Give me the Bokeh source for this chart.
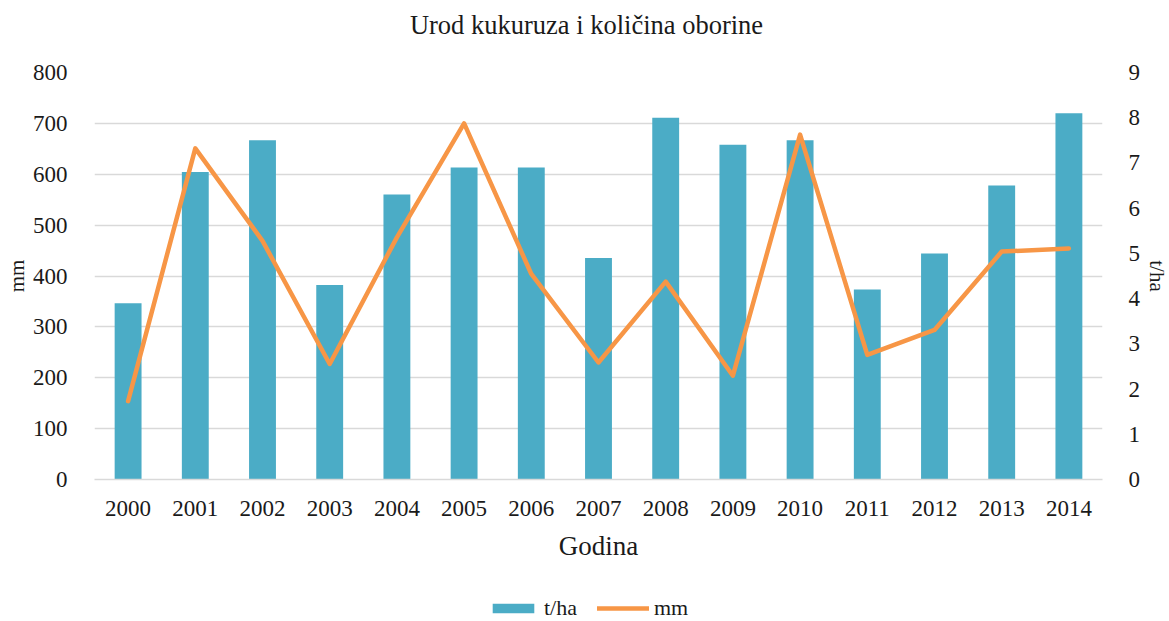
from bokeh.plotting import figure
from bokeh.layouts import column
from bokeh.models import (Range1d, LinearAxis, FixedTicker, Legend, LegendItem,
                          ColumnDataSource, FactorRange, Label)
from bokeh.embed import file_html
from bokeh.resources import INLINE

# ---- data ----
years = [str(y) for y in range(2000, 2015)]
yield_tha = [3.9, 6.8, 7.5, 4.3, 6.3, 6.9, 6.9, 4.9, 8.0, 7.4, 7.5, 4.2, 5.0, 6.5, 8.1]
rain_mm = [154, 651, 469, 227, 476, 700, 404, 230, 389, 204, 678, 245, 294, 448, 454]
mm_ticks = [0, 100, 200, 300, 400, 500, 600, 700, 800]
tha_ticks = [0, 1, 2, 3, 4, 5, 6, 7, 8, 9]

title_text = "Urod kukuruza i količina oborine"
x_label = "Godina"
left_label = "mm"
right_label = "t/ha"
series_labels = ["t/ha", "mm"]

FONT = "Liberation Serif"
TXT = "#1a1a1a"
BAR = "#4BACC6"
LINE = "#F79646"
GRID = "#D9D9D9"

src = ColumnDataSource(dict(year=years, tha=yield_tha, mm=rain_mm))

# ---- title strip ----
t = figure(width=1169, height=50, x_range=Range1d(0, 1), y_range=Range1d(0, 1),
           min_border=0, x_axis_location=None, y_axis_location=None, title=None,
           output_backend="svg", toolbar_location=None)
t.outline_line_color = None
t.grid.visible = False
t.add_layout(Label(x=492, y=26, x_units="screen", y_units="screen", text=title_text,
                   text_align="center", text_baseline="alphabetic",
                   text_font=FONT, text_font_size="26.5px", text_color=TXT))

# ---- main chart ----
p = figure(x_range=FactorRange(*years), y_range=Range1d(0, 800),
           frame_width=1008, frame_height=407,
           min_border_left=94, min_border_right=66, min_border_top=22, min_border_bottom=102,
           output_backend="svg", toolbar_location=None, title=None)
p.extra_y_ranges = {"tha": Range1d(0, 9)}
p.outline_line_color = None

bars = p.vbar(x="year", top="tha", width=0.4, source=src, y_range_name="tha",
              fill_color=BAR, line_color=None)
line = p.line(x="year", y="mm", source=src, line_color=LINE, line_width=4.5,
              line_cap="round", line_join="round")

p.xgrid.visible = False
p.ygrid.grid_line_color = GRID
p.ygrid.grid_line_width = 1.3

def style_axis(ax):
    ax.major_label_text_font = FONT
    ax.major_label_text_font_size = "23px"
    ax.major_label_text_color = TXT
    ax.axis_label_text_font = FONT
    ax.axis_label_text_font_size = "21px"
    ax.axis_label_text_font_style = "normal"
    ax.axis_label_text_color = TXT
    ax.major_tick_line_color = None
    ax.minor_tick_line_color = None

ly = p.yaxis[0]
ly.ticker = FixedTicker(ticks=mm_ticks)
ly.axis_label = left_label
style_axis(ly)
ly.axis_line_color = None
ly.major_label_standoff = 21
ly.axis_label_standoff = 1

ry = LinearAxis(y_range_name="tha", ticker=FixedTicker(ticks=tha_ticks), axis_label=right_label)
style_axis(ry)
ry.axis_line_color = None
ry.major_label_standoff = 20
ry.axis_label_standoff = 2
p.add_layout(ry, "right")

xa = p.xaxis[0]
xa.axis_label = x_label
style_axis(xa)
xa.axis_line_color = GRID
xa.axis_line_width = 1.3
xa.major_label_standoff = 15
xa.axis_label_standoff = 12
xa.axis_label_text_font_size = "27px"

# ---- legend strip ----
q = figure(width=1169, height=40, x_range=p.x_range, y_range=Range1d(1000, 1001),
           min_border=0, x_axis_location=None, y_axis_location=None, title=None,
           output_backend="svg", toolbar_location=None)
q.outline_line_color = None
q.grid.visible = False
lb = q.vbar(x="year", top="tha", width=0.4, source=src, fill_color=BAR, line_color=None)
ll = q.line(x="year", y="mm", source=src, line_color=LINE, line_width=4.5, line_cap="round")
legend = Legend(items=[LegendItem(label=series_labels[0], renderers=[lb]),
                       LegendItem(label=series_labels[1], renderers=[ll])],
                orientation="horizontal", location=(393, 0),
                glyph_width=52, glyph_height=12, label_standoff=5, spacing=20,
                padding=0, margin=0, border_line_color=None, background_fill_alpha=0,
                label_text_font=FONT, label_text_font_size="22px", label_text_color=TXT)
q.add_layout(legend, "center")

layout = column(t, p, q, spacing=0)
open("out.html", "w").write(file_html(layout, INLINE))
